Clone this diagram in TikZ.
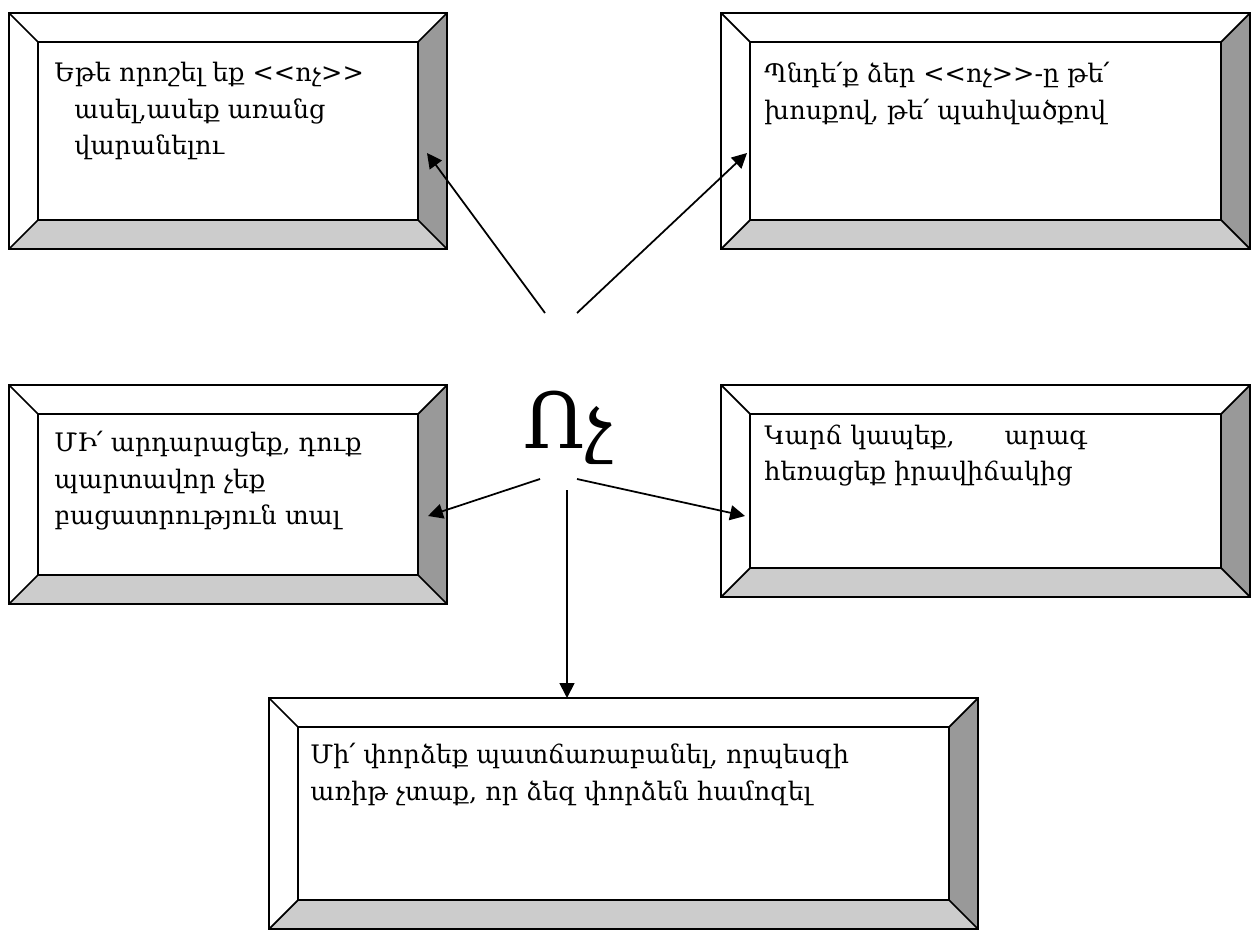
\documentclass[tikz,border=0pt]{standalone}
\usepackage{fontspec}
\newfontfamily\armfont{DejaVu Serif}
\usetikzlibrary{positioning,arrows.meta}

\definecolor{bevdark}{HTML}{999999}
\definecolor{bevlight}{HTML}{CCCCCC}

\tikzset{
  face/.style={draw, line width=1pt, inner sep=0pt},
  txt/.style={font=\armfont\fontsize{14.5}{20.7}\selectfont, align=left, inner sep=0pt},
  arr/.style={-{Triangle[length=8.5pt,width=8.5pt]}, line width=1pt},
}

% bevelled frame: name, x1, y1, x2, y2 (outer corners, in px)
\newcommand{\bevelbox}[5]{%
  \fill[bevdark] (#4,#3) -- (#4,#5) -- (#4-29,#5-29) -- (#4-29,#3+29) -- cycle;
  \fill[bevlight] (#2,#5) -- (#4,#5) -- (#4-29,#5-29) -- (#2+29,#5-29) -- cycle;
  \draw[line width=1pt] (#2,#3) rectangle (#4,#5);
  \draw[line width=1pt] (#2,#3) -- (#2+29,#3+29) (#4,#3) -- (#4-29,#3+29)
    (#2,#5) -- (#2+29,#5-29) (#4,#5) -- (#4-29,#5-29);
  \node[face, minimum width={(#4-#2-58)*0.02cm}, minimum height={(#5-#3-58)*0.02cm}]
    (#1) at ({(#2+#4)/2},{(#3+#5)/2}) {};
}

\begin{document}
\begin{tikzpicture}[x=0.02cm, y=-0.02cm]
\useasboundingbox (0,0) rectangle (1260,929);

\bevelbox{b1}{9}{13}{447}{249}
\bevelbox{b2}{721}{13}{1250}{249}
\bevelbox{b3}{9}{385}{447}{604}
\bevelbox{b4}{721}{385}{1250}{597}
\bevelbox{b5}{269}{698}{978}{929}

\node[txt, below right=0.42cm and 0.34cm of b1.north west] (t1)
  {Եթե որոշել եք <<ոչ>>\\\hspace*{0.4cm}ասել,ասեք առանց\\\hspace*{0.4cm}վարանելու};
\node[txt, below right=0.42cm and 0.3cm of b2.north west] (t2)
  {Պնդե՛ք ձեր <<ոչ>>-ը թե՛\\խոսքով, թե՛ պահվածքով};
\node[txt, below right=0.36cm and 0.34cm of b3.north west] (t3)
  {ՄԻ՛ արդարացեք, դուք\\պարտավոր չեք\\բացատրություն տալ};
\node[txt, below right=0.22cm and 0.3cm of b4.north west] (t4)
  {Կարճ կապեք,\hspace{1cm}արագ\\հեռացեք իրավիճակից};
\node[txt, below right=0.34cm and 0.26cm of b5.north west] (t5)
  {Մի՛ փորձեք պատճառաբանել, որպեսզի\\առիթ չտաք, որ ձեզ փորձեն համոզել};

\node[font=\armfont\fontsize{44}{44}\selectfont, inner sep=0pt] (no) at (568,428) {Ոչ};

% arrow ends
\coordinate (s1) at (545,313); \coordinate (e1) at (427,153);
\coordinate (s2) at (577,313); \coordinate (e2) at (747,153);
\coordinate (s3) at (540,479); \coordinate (e3) at (428,516);
\coordinate (s4) at (577,479); \coordinate (e4) at (745,516);
\coordinate (s5) at (567,490); \coordinate (e5) at (567,698);

\draw[arr] (s1) -- (e1);
\draw[arr] (s2) -- (e2);
\draw[arr] (s3) -- (e3);
\draw[arr] (s4) -- (e4);
\draw[arr] (s5) -- (e5);

\end{tikzpicture}
\end{document}
